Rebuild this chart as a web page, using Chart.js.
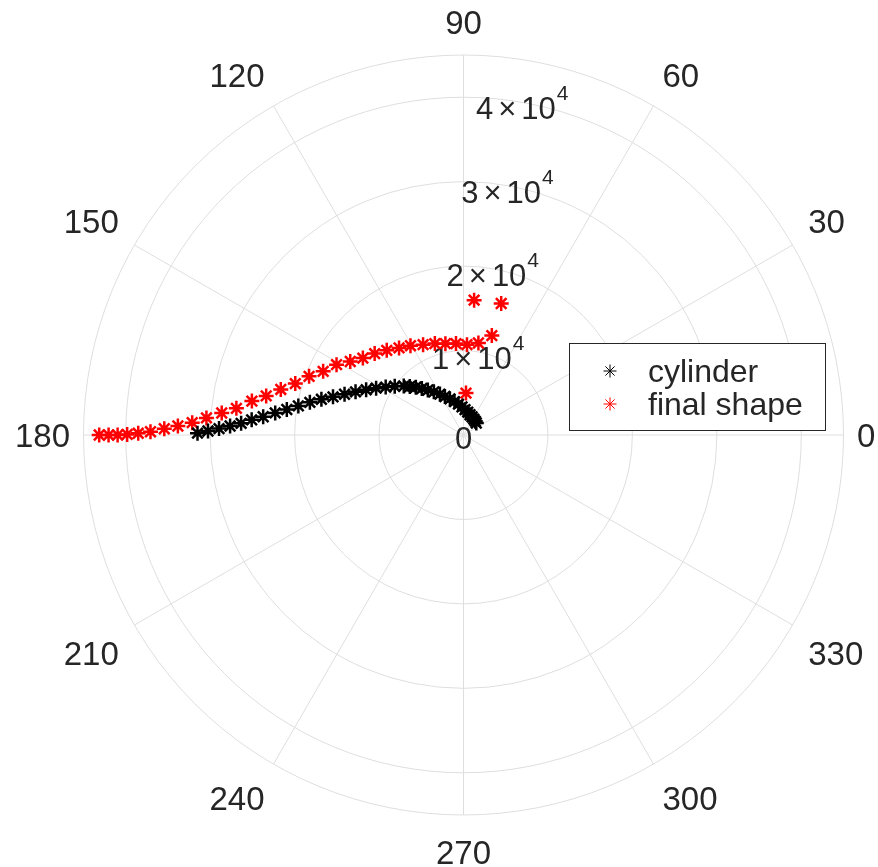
<!DOCTYPE html>
<html>
<head>
<meta charset="utf-8">
<script src="https://cdn.jsdelivr.net/npm/chart.js@4.4.1/dist/chart.umd.min.js"></script>
<style>
    html, body { margin: 0; padding: 0; background: #fff; }
    #wrap { width: 878px; height: 867px; position: relative; }
</style>
</head>
<body>
<div id="wrap"><canvas id="polarChart"></canvas></div>
<script>
// data (theta in degrees, r in plain units)
const seriesNames = ["cylinder", "final shape"];
const seriesColors = ["#000000", "#ff0000"];

const cylinderTheta = [179.6, 179.1, 178.5, 177.8, 177.0, 175.9, 174.8, 173.3, 171.8, 170.0,
    168.0, 165.9, 163.7, 161.1, 158.2, 155.1, 151.8, 148.4, 144.7, 140.7,
    137.9, 134.9, 131.9, 128.4, 124.5, 120.0, 115.8, 110.6, 105.1, 99.3,
    93.1, 86.6, 79.5, 72.2, 64.7, 56.9, 49.7, 43.2];
const cylinderR = [31500, 30260, 28960, 27660, 26370, 25150, 23820, 22450, 21140, 19860,
    18600, 17350, 16100, 14890, 13770, 12710, 11740, 10820, 9980, 9140,
    8570, 8000, 7390, 6800, 6200, 5590, 5060, 4570, 4100, 3700,
    3330, 3010, 2750, 2520, 2370, 2240, 2150, 2080];

const finalTheta = [180, 180, 180, 179.9, 179.7, 179.4, 178.8, 178.2, 177.4, 176.2,
    174.8, 173.3, 170.9, 168.8, 166.0, 163.0, 159.2, 155.6, 151.0, 147.0,
    142.6, 137.5, 132.2, 126.5, 120.7, 114.1, 107.4, 101.2, 94.7, 87.8,
    80.8, 74.1, 85.5, 74.0, 86.6];
const finalR = [43140, 42030, 40960, 39830, 38520, 37070, 35440, 33840, 32160, 30510,
    28750, 27080, 25380, 23820, 22300, 20830, 19560, 18250, 17190, 15990,
    15000, 14270, 13530, 12830, 12300, 11720, 11340, 11030, 10860, 10710,
    11040, 12240, 16020, 16200, 4970];

const rTicks = [0, 10000, 20000, 30000, 40000];
const rTickMantissa = ["0", "1", "2", "3", "4"];
const rMax = 45000;
const angleTicks = [0, 30, 60, 90, 120, 150, 180, 210, 240, 270, 300, 330];
const rLabelAngle = 80;

const textColor = "#262626";
const gridColor = "#dedede";
const fontFamily = "'Liberation Sans', Arial, Helvetica, sans-serif";
const markerRadius = 7.5;
const markerWidth = 2.5;

function toXY(thetas, rs) {
    return thetas.map((t, i) => {
        const a = t * Math.PI / 180;
        return { x: rs[i] * Math.cos(a), y: rs[i] * Math.sin(a) };
    });
}

// polar grid, angle labels and r labels
const polarGrid = {
    id: "polarGrid",
    beforeDatasetsDraw(chart) {
        const ctx = chart.ctx;
        const xs = chart.scales.x, ys = chart.scales.y;
        const cx = xs.getPixelForValue(0), cy = ys.getPixelForValue(0);
        const pr = xs.getPixelForValue(rMax) - cx;

        ctx.save();
        ctx.strokeStyle = gridColor;
        ctx.lineWidth = 1;
        rTicks.concat([rMax]).forEach(r => {
            if (r === 0) return;
            const rp = xs.getPixelForValue(r) - cx;
            ctx.beginPath();
            ctx.arc(cx, cy, rp, 0, Math.PI * 2);
            ctx.stroke();
        });
        angleTicks.forEach(a => {
            const rad = a * Math.PI / 180;
            ctx.beginPath();
            ctx.moveTo(cx, cy);
            ctx.lineTo(cx + pr * Math.cos(rad), cy - pr * Math.sin(rad));
            ctx.stroke();
        });

        // angle labels
        ctx.fillStyle = textColor;
        const fs = 33;
        ctx.font = fs + "px " + fontFamily;
        ctx.textBaseline = "alphabetic";
        const capH = fs * 0.716;
        const gap = 18;
        angleTicks.forEach(a => {
            const rad = a * Math.PI / 180;
            const c = Math.cos(rad), s = Math.sin(rad);
            let ax = cx + (pr + gap) * c, ay = cy - (pr + gap) * s;
            const txt = String(a);
            const w = ctx.measureText(txt).width;
            if (s > 0.1) ay -= 3.5;
            else if (s < -0.1) ay += 7;
            else ax -= 4.5 * Math.sign(c);
            let x = ax - w / 2, base = ay + capH / 2;
            if (c > 0.1) x = ax; else if (c < -0.1) x = ax - w;
            if (s > 0.1) base = ay; else if (s < -0.1) base = ay + capH;
            ctx.textAlign = "left";
            ctx.fillText(txt, x, base);
        });

        // r tick labels along 80 degrees
        const mfs = 31, sfs = 21;
        const rr = rLabelAngle * Math.PI / 180;
        rTicks.forEach((r, i) => {
            const rp = xs.getPixelForValue(r) - cx;
            const px = cx + rp * Math.cos(rr), py = cy - rp * Math.sin(rr);
            ctx.textAlign = "left";
            if (r === 0) {
                ctx.font = mfs + "px " + fontFamily;
                const w = ctx.measureText("0").width;
                ctx.fillText("0", px - w / 2, py + 3 + mfs * 0.716 / 2);
                return;
            }
            ctx.font = mfs + "px " + fontFamily;
            const m = rTickMantissa[i];
            const sp = mfs * 0.16;
            const wm = ctx.measureText(m).width;
            const wt = ctx.measureText("\u00d7").width;
            const wb = ctx.measureText("10").width;
            ctx.font = sfs + "px " + fontFamily;
            const we = ctx.measureText("4").width;
            const total = wm + sp + wt + sp + wb + 1 + we;
            const mainH = mfs * 0.716, supRaise = 19, supH = sfs * 0.716;
            const topY = -(supRaise + supH - mainH);
            const boxH = mainH - topY;
            const base = py + boxH / 2;
            let x = px - total / 2;
            ctx.font = mfs + "px " + fontFamily;
            ctx.fillText(m, x, base); x += wm + sp;
            ctx.fillText("\u00d7", x, base); x += wt + sp;
            ctx.fillText("10", x, base); x += wb + 1;
            ctx.font = sfs + "px " + fontFamily;
            ctx.fillText("4", x, base - supRaise);
        });
        ctx.restore();
    }
};

// boxed legend inside the axes, like MATLAB
const boxLegend = {
    id: "boxLegend",
    afterDatasetsDraw(chart) {
        const ctx = chart.ctx;
        const bx = 569.5, by = 343.5, bw = 256, bh = 87;
        ctx.save();
        ctx.fillStyle = "#ffffff";
        ctx.fillRect(bx, by, bw, bh);
        ctx.strokeStyle = textColor;
        ctx.lineWidth = 1;
        ctx.strokeRect(bx, by, bw, bh);
        const fs = 32;
        ctx.font = fs + "px " + fontFamily;
        ctx.textAlign = "left";
        ctx.textBaseline = "alphabetic";
        const rows = [371, 404];
        chart.data.datasets.forEach((ds, i) => {
            ctx.strokeStyle = ds.borderColor;
            Chart.helpers.drawPoint(ctx, {
                pointStyle: "star", radius: 6.5, borderWidth: 2, rotation: 0
            }, 610, rows[i]);
            ctx.fillStyle = textColor;
            ctx.fillText(ds.label, 648, rows[i] + fs * 0.716 / 2);
        });
        ctx.restore();
    }
};

const ctx = document.getElementById("polarChart").getContext("2d");
new Chart(ctx, {
    type: "scatter",
    data: {
        datasets: [
            {
                label: seriesNames[0],
                data: toXY(cylinderTheta, cylinderR),
                borderColor: seriesColors[0],
                backgroundColor: seriesColors[0],
                pointStyle: "star",
                pointRadius: markerRadius,
                pointBorderWidth: markerWidth,
                showLine: false
            },
            {
                label: seriesNames[1],
                data: toXY(finalTheta, finalR),
                borderColor: seriesColors[1],
                backgroundColor: seriesColors[1],
                pointStyle: "star",
                pointRadius: markerRadius,
                pointBorderWidth: markerWidth,
                showLine: false
            }
        ]
    },
    options: {
        responsive: true,
        maintainAspectRatio: false,
        animation: false,
        layout: { padding: { left: 83.5, right: 34.5, top: 55, bottom: 52 } },
        scales: {
            x: { type: "linear", min: -rMax, max: rMax, display: false },
            y: { type: "linear", min: -rMax, max: rMax, display: false }
        },
        plugins: {
            legend: { display: false },
            tooltip: { enabled: false }
        }
    },
    plugins: [polarGrid, boxLegend]
});
</script>
</body>
</html>
